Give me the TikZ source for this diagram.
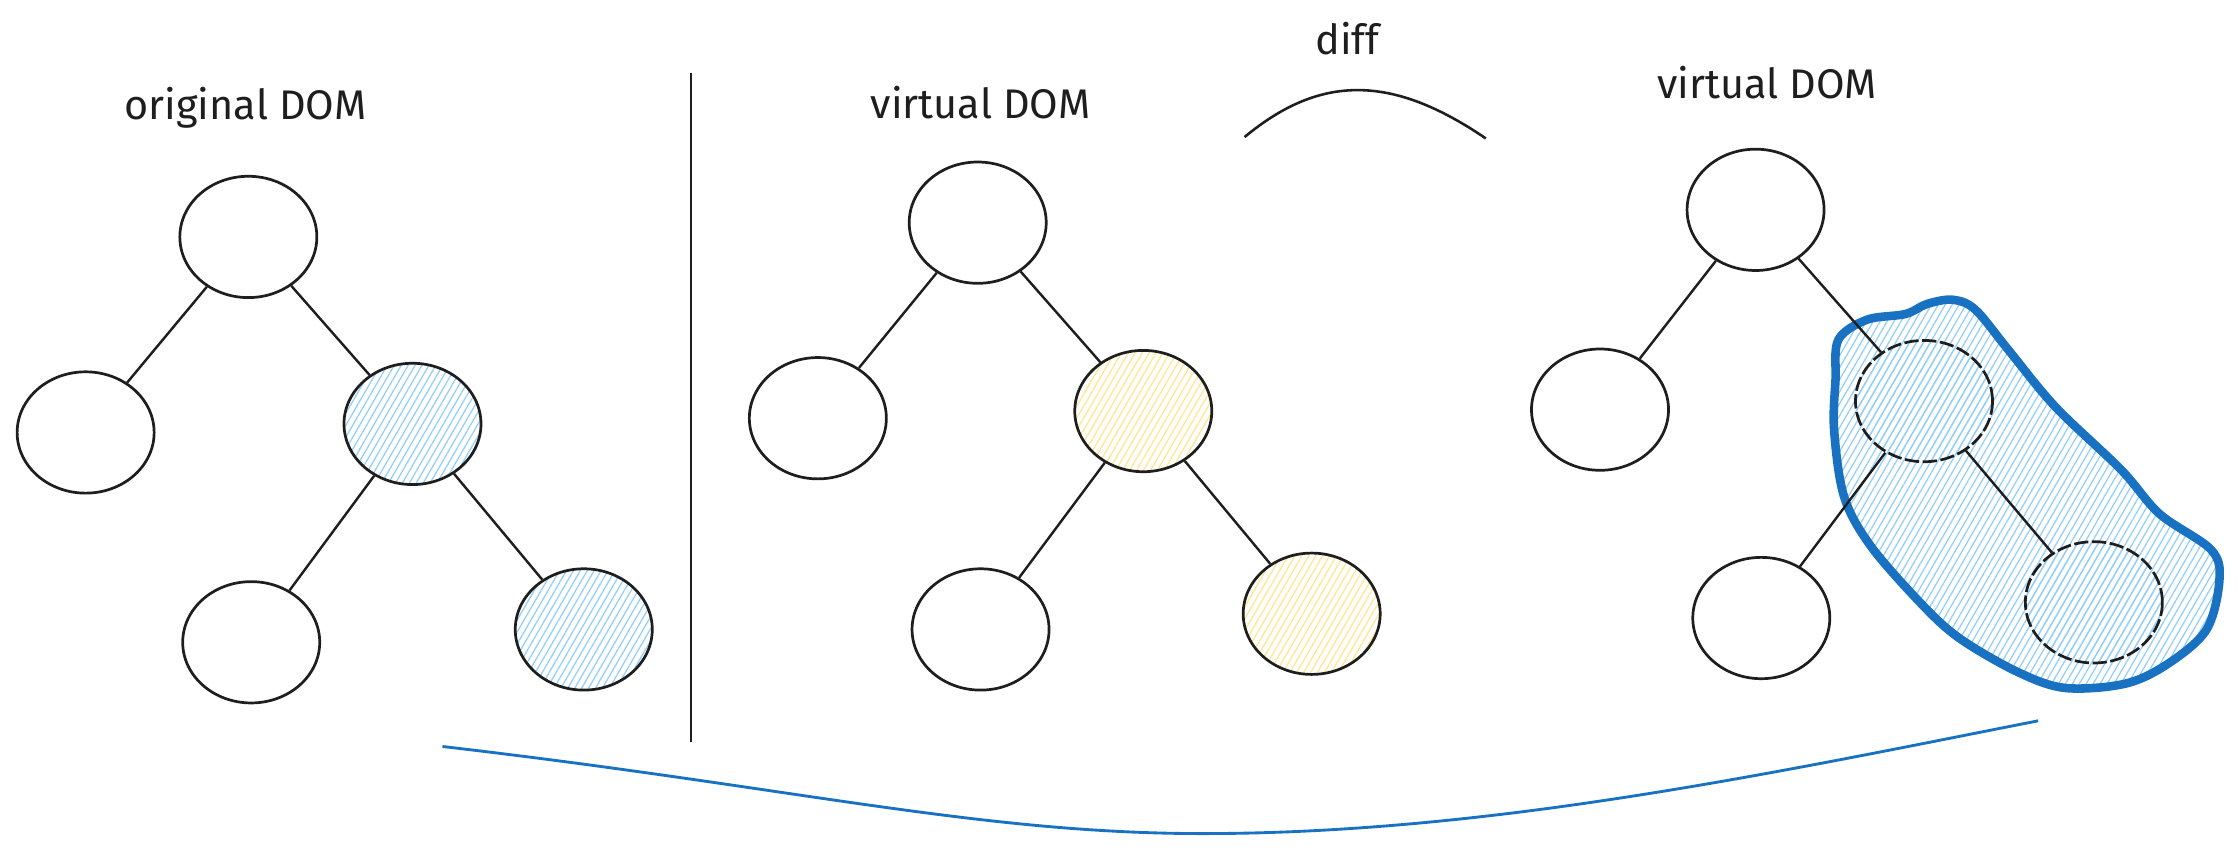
\documentclass[tikz,border=0pt]{standalone}
\usepackage{fontspec}
\setmainfont{Fira Sans}
\usetikzlibrary{shapes.geometric,patterns.meta}
\definecolor{ink}{HTML}{1E1E1E}
\definecolor{bluefill}{HTML}{94CFFA}
\definecolor{yellowfill}{HTML}{FFE68F}
\definecolor{bluestroke}{HTML}{1971C2}
\begin{document}
\begin{tikzpicture}[x=1pt,y=-1pt,
  treenode/.style={ellipse, draw=ink, line width=1.9pt, minimum width=96pt, minimum height=85pt, inner sep=0pt},
  bluehatch/.style={pattern={Lines[angle=60,distance=4.2pt,line width=0.9pt]}, pattern color=bluefill},
  yellowhatch/.style={pattern={Lines[angle=60,distance=4.2pt,line width=0.9pt]}, pattern color=yellowfill},
  dashnode/.style={treenode, dash pattern=on 10pt off 2.5pt},
  link/.style={draw=ink, line width=1.7pt},
  heading/.style={anchor=base, font=\fontsize{29}{33}\selectfont, text=ink, inner sep=0pt}]
\useasboundingbox (0,0) rectangle (1568,600);

% titles
\node[heading] (t1) at (172,84) {original DOM};
\node[heading] (t2) at (687,83) {virtual DOM};
\node[heading] (t3) at (1238,69) {virtual DOM};
\node[heading] (t4) at (944,38) {diff};

% divider
\coordinate (d1) at (484,51);
\coordinate (d2) at (484,520);
\draw[ink, line width=1.8pt] (d1) -- (d2);

% diff arc
\coordinate (a1) at (872,96);
\coordinate (a2) at (1041,97);
\draw[ink, line width=1.8pt] (a1) .. controls (925,52) and (975,52) .. (a2);

% bottom curve
\coordinate (b1) at (310,523);
\coordinate (b2) at (1428,505);
\draw[bluestroke, line width=2pt] (b1) .. controls (560,552) and (690,585) .. (850,584) .. controls (1050,583) and (1250,540) .. (b2);

% blob
\draw[bluestroke, line width=6pt, line join=round, bluehatch] plot[smooth cycle, tension=0.55] coordinates {
 (1288,238) (1308,224) (1335,220) (1350,213) (1368,210) (1384,217) (1407,245) (1440,285) (1486,329)
 (1513,360) (1549,385) (1555,406) (1546,441) (1519,465) (1489,479) (1447,482) (1414,471) (1374,448)
 (1348,425) (1311,383) (1292,348) (1285,301) (1286,266)};

% left tree
\node[treenode] (la) at (174,166) {};
\node[treenode] (lb) at (60,303) {};
\node[treenode, bluehatch] (lc) at (289,297) {};
\node[treenode] (ld) at (176,450) {};
\node[treenode, bluehatch] (le) at (409,441) {};
\draw[link] (la) -- (lb);
\draw[link] (la) -- (lc);
\draw[link] (lc) -- (ld);
\draw[link] (lc) -- (le);

% middle tree
\node[treenode] (ma) at (685,156) {};
\node[treenode] (mb) at (573,293) {};
\node[treenode, yellowhatch] (mc) at (801,288) {};
\node[treenode] (md) at (687,441) {};
\node[treenode, yellowhatch] (me) at (919,430) {};
\draw[link] (ma) -- (mb);
\draw[link] (ma) -- (mc);
\draw[link] (mc) -- (md);
\draw[link] (mc) -- (me);

% right tree
\node[treenode] (ra) at (1230,147) {};
\node[treenode] (rb) at (1121,287) {};
\node[dashnode, bluehatch] (rc) at (1348,281) {};
\node[treenode] (rd) at (1234,433) {};
\node[dashnode, bluehatch] (re) at (1467,422) {};
\draw[link] (ra) -- (rb);
\draw[link] (ra) -- (rc);
\draw[link] (rc) -- (rd);
\draw[link] (rc) -- (re);
\end{tikzpicture}
\end{document}
